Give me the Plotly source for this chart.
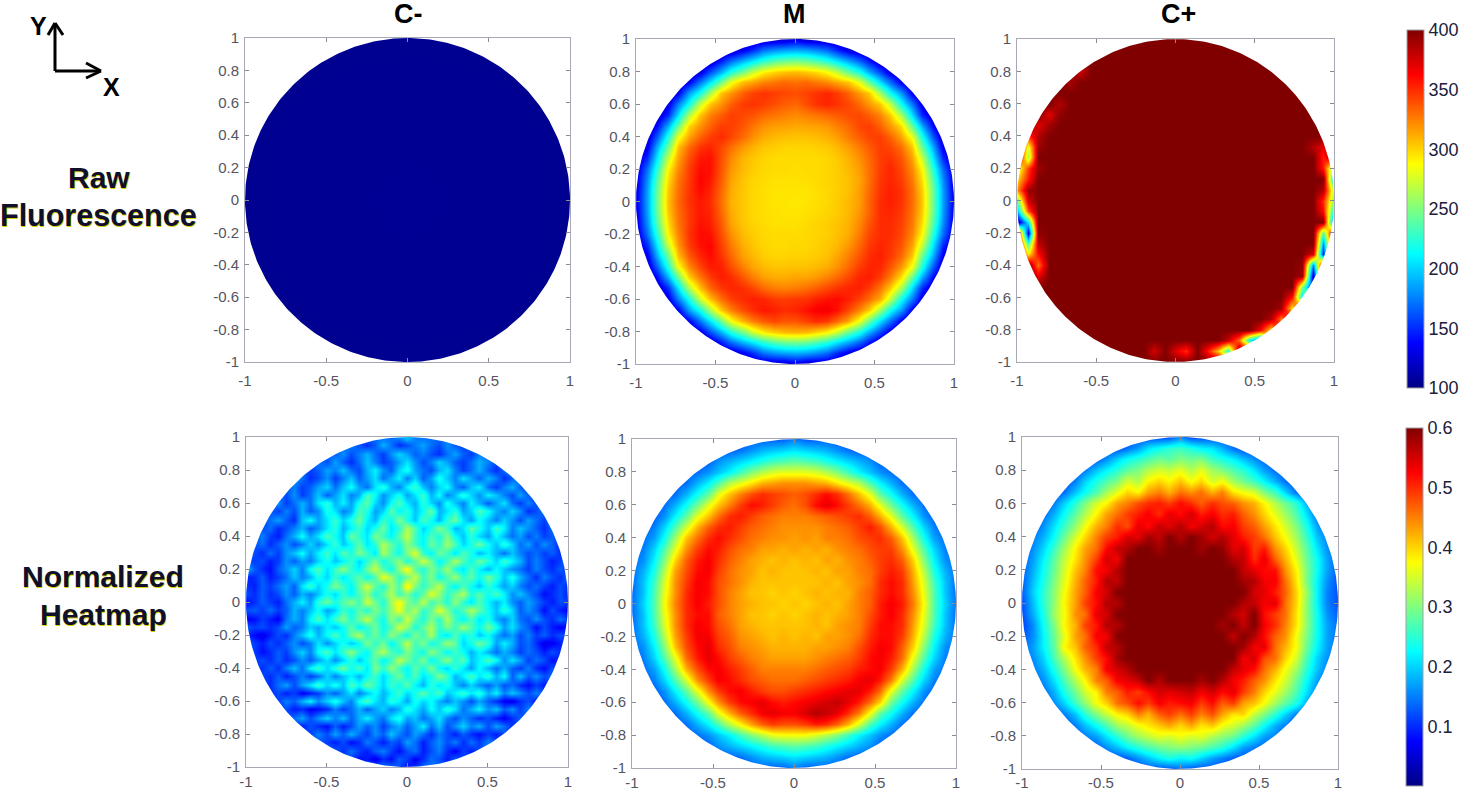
import numpy as np
import plotly.graph_objects as go

W = 1460
H = 792

# grid nodes of the measured maps, rows are written top (+1) to bottom (-1)
GRID_X = [round(-1 + i / 15, 4) for i in range(31)]
GRID_Y = GRID_X[::-1]
FINE_X = [round(-1 + i / 20, 4) for i in range(41)]
FINE_Y = FINE_X[::-1]

TICKS_X = [-1, -0.5, 0, 0.5, 1]
TICKS_X_TEXT = ["-1", "-0.5", "0", "0.5", "1"]
TICKS_Y = [-1, -0.8, -0.6, -0.4, -0.2, 0, 0.2, 0.4, 0.6, 0.8, 1]
TICKS_Y_TEXT = ["-1", "-0.8", "-0.6", "-0.4", "-0.2", "0", "0.2", "0.4", "0.6", "0.8", "1"]
RAW_TICKS = [100, 150, 200, 250, 300, 350, 400]
NORM_TICKS = [0, 0.1, 0.2, 0.3, 0.4, 0.5, 0.6]

RAW_CNEG_X = [-1, 0, 1]
RAW_CNEG_Y = [1, 0, -1]
RAW_CNEG = [
    [104, 104, 104],
    [104, 105, 104],
    [104, 104, 104],
]

RAW_M = [
    [120]*15 + [130] + [120]*15,
    [120]*10 + [132,150,170,180,185,188,185,178,168,148,130] + [120]*10,
    [120]*7 + [122,145,170,190,208,225,238,245,248,244,236,223,206,188,168,143,121] + [120]*7,
    [120]*6 + [130,160,190,222,245,272,290,300,305,308,304,298,288,270,243,220,188,158,128] + [120]*6,
    [120]*5 + [135,172,205,245,283,306,315,324,328,332,330,332,327,322,313,304,281,243,203,170,133] + [120]*5,
    [120]*4 + [135,185,218,262,305,320,334,344,348,345,342,340,343,348,352,346,334,318,303,260,216,183,133] + [120]*4,
    [120,120,120,130,175,218,272,305,320,335,345,348,345,340,335,332,340,348,352,348,342,332,318,303,270,216,173,128,120,120,120],
    [120,120,120,150,205,265,305,325,335,345,342,338,332,328,325,322,325,328,332,336,340,342,335,323,303,263,203,148,120,120,120],
    [120,120,140,190,245,300,320,334,345,344,338,328,320,316,315,313,314,315,318,325,332,342,345,334,318,298,243,188,138,120,120],
    [120,122,165,222,283,315,334,345,350,342,332,320,312,308,306,305,305,307,310,316,326,335,343,345,334,315,283,220,163,120,120],
    [120,132,190,245,306,332,348,352,342,330,318,310,304,302,300,300,300,301,303,308,316,326,336,345,342,330,304,243,188,130,120],
    [122,150,208,272,315,340,356,358,340,322,310,304,300,298,298,298,298,298,300,303,310,320,332,345,348,338,315,270,206,148,122],
    [125,170,225,290,322,345,360,358,338,318,308,302,299,298,298,297,298,298,300,302,308,316,330,345,352,342,322,288,223,168,125],
    [128,180,238,298,328,346,362,356,335,314,305,300,298,296,296,296,297,298,300,302,306,314,330,347,352,345,327,296,236,178,128],
    [130,185,245,304,330,348,360,352,332,312,304,299,297,295,295,295,295,297,299,302,306,316,332,348,354,348,330,302,243,183,130],
    [132,186,246,306,332,348,356,350,330,310,304,299,297,295,295,294,295,297,299,303,308,316,334,350,354,348,331,304,244,184,132],
    [130,185,245,304,330,346,356,352,332,312,304,299,297,296,295,295,296,298,300,303,308,318,334,350,352,346,329,302,243,183,130],
    [128,180,238,298,328,346,358,354,336,314,305,300,298,296,296,296,298,300,302,305,310,322,338,350,350,344,327,296,236,178,128],
    [125,170,225,290,324,348,360,358,340,320,308,302,299,298,298,298,299,300,302,306,312,326,342,350,350,342,323,288,223,168,125],
    [122,150,208,272,318,345,358,362,344,326,312,304,300,298,298,299,299,301,304,308,318,332,346,352,348,338,315,270,206,148,122],
    [120,132,190,245,306,336,352,360,348,332,316,308,302,300,300,301,301,303,306,314,325,338,350,354,346,332,304,243,188,130,120],
    [120,122,165,222,284,322,342,355,354,340,326,314,308,305,305,306,306,308,312,320,332,345,352,352,338,318,283,220,163,120,120],
    [120,120,140,190,246,302,328,345,355,350,338,325,316,312,312,314,314,318,324,332,342,352,355,345,326,298,243,188,138,120,120],
    [120,120,120,150,205,265,306,332,346,352,350,342,332,326,324,326,330,335,342,348,352,354,345,328,303,263,203,148,120,120,120],
    [120,120,120,130,175,218,272,306,330,344,350,354,352,346,345,347,348,354,358,360,354,344,330,312,270,216,173,128,120,120,120],
    [120]*4 + [135,185,218,262,304,325,340,350,356,354,350,352,358,364,366,358,342,324,302,260,216,183,133] + [120]*4,
    [120]*5 + [135,172,205,245,285,308,326,336,342,338,338,344,350,346,332,314,284,243,203,170,133] + [120]*5,
    [120]*6 + [130,160,190,222,245,274,292,302,308,310,308,300,290,272,243,220,188,158,128] + [120]*6,
    [120]*7 + [122,145,170,190,208,225,238,245,248,244,236,223,206,188,168,143,121] + [120]*7,
    [120]*10 + [132,150,170,180,185,188,185,178,168,148,130] + [120]*10,
    [120]*15 + [130] + [120]*15,
]

RAW_CPOS = [
    [400]*31,
    [400]*31,
    [400]*31,
    [400]*6 + [375] + [400]*24,
    [400]*5 + [388] + [400]*25,
    [400]*31,
    [400]*4 + [385] + [400]*26,
    [400]*3 + [370,395] + [400]*26,
    [400]*2 + [370,390] + [400]*27,
    [400,350,385] + [400]*28,
    [400,280,392] + [400]*25 + [385,370,400],
    [400,260] + [400]*27 + [355,400],
    [270,345,392] + [400]*26 + [355,240],
    [300,355] + [400]*28 + [190],
    [320,392] + [400]*27 + [385,260],
    [240,375] + [400]*27 + [350,250],
    [190,340] + [400]*27 + [360,210],
    [110,210] + [400]*28 + [150],
    [400,130,395] + [400]*26 + [235,400],
    [400,235,380] + [400]*26 + [175,400],
    [400,295,360] + [400]*25 + [375,145,400],
    [400,400,330] + [400]*24 + [395,175,400,400],
    [400,400,370] + [400]*24 + [390,120,400,400],
    [400]*27 + [250,135,400,400],
    [400]*26 + [360,205,400,400,400],
    [400]*25 + [390,295,400,400,400,400],
    [400]*24 + [385,325,400,400,400,400,400],
    [400]*23 + [365,295,400,400,400,400,400,400],
    [400]*20 + [380,330,215,155] + [400]*7,
    [400]*13 + [375,400,370,350,400,360,305,225] + [400]*10,
    [400]*31,
]

# normalized maps are kept in hundredths, this one is written only inside the disc
NORM_CNEG = [
    [16,20,15],
    [15,12,10,13,18,14,10,12,15,17,14,12,16,13,11],
    [13,16,12,15,18,14,11,16,20,17,13,15,12,10,14,17,13,11,15],
    [15,12,17,13,10,14,19,15,11,13,17,21,16,12,15,20,17,13,11,14,18,15,12],
    [14,11,13,17,15,19,14,12,18,22,16,13,20,24,17,14,12,18,21,15,11,14,18,13,10,14,16],
    [17,14,10,12,16,11,15,19,13,17,21,14,18,22,15,20,13,17,24,19,15,21,17,13,18,15,10,13,16],
    [12,15,11,13,17,20,14,19,23,17,14,21,25,18,15,22,26,19,15,20,23,16,13,19,22,14,11,15,18,13,11],
    [14,12,16,11,14,19,13,17,21,15,18,27,23,16,20,24,17,21,26,18,23,15,19,25,20,16,22,19,15,12,17,13,10],
    [13,16,11,14,18,14,21,25,18,22,17,24,28,20,16,23,27,21,18,25,20,16,24,19,15,22,18,13,17,21,14,11,15,12,14],
    [13,11,15,12,18,13,16,24,21,15,18,27,24,17,20,28,22,25,19,23,29,18,21,25,17,20,27,23,18,15,20,16,10,12,15],
    [11,14,17,13,10,19,23,17,21,26,20,24,29,22,18,26,23,30,24,19,27,23,18,25,29,21,17,23,19,15,20,16,12,17,14,11,15],
    [12,14,10,12,15,18,13,16,21,25,18,22,26,20,24,29,21,25,33,27,20,24,30,26,18,21,28,24,19,26,22,15,19,16,13,10,14],
    [12,15,11,9,14,18,23,17,21,27,23,19,29,25,21,30,26,22,28,34,26,22,27,24,30,23,19,25,20,17,23,18,14,17,12,15,11,13,10],
    [12,14,10,13,16,12,15,20,16,21,26,19,23,28,21,25,33,28,24,31,26,22,29,25,32,27,20,24,29,23,19,25,20,14,17,12,16,13,10],
    [14,12,10,14,11,16,19,23,17,22,26,21,28,24,30,26,21,33,27,23,30,36,25,22,29,26,21,27,24,18,22,18,14,19,15,12,14,11,13,10,13],
    [12,11,12,9,11,16,13,17,15,20,24,19,22,26,20,25,30,23,27,31,24,28,35,29,22,26,33,27,23,29,25,20,26,22,18,12,15,12,9,11,17],
    [19,13,10,8,13,16,20,15,23,27,21,26,31,25,22,29,34,27,23,31,38,28,24,30,26,32,24,21,27,22,18,23,19,16,14,11,15,12,10,13,10],
    [9,10,13,9,11,14,19,15,18,24,20,26,21,25,28,23,27,37,32,25,29,34,26,30,23,27,32,25,28,23,29,25,19,24,18,14,10,15,12,10,14],
    [11,9,13,11,14,17,13,21,26,20,24,30,26,22,29,35,28,24,32,27,39,30,25,29,34,26,22,27,23,19,25,21,17,20,15,12,14,11,9,12,10],
    [12,10,13,10,12,16,13,18,15,19,24,20,26,22,27,31,24,28,33,26,30,24,28,36,31,25,29,33,24,28,23,27,22,16,19,15,12,8,10,12,9],
    [8,10,13,11,9,14,18,22,17,25,29,24,27,31,26,35,29,24,32,38,30,27,34,26,29,24,31,25,21,27,22,18,22,16,13,17,14,11,9,12,11],
    [12,13,11,14,11,13,18,15,19,23,17,20,26,23,28,24,30,26,31,37,29,33,25,28,36,30,24,27,33,28,23,19,25,20,13,16,13,8,12,9,7],
    [7,8,11,9,7,14,18,15,22,27,21,26,30,24,29,34,27,23,31,26,35,28,24,30,25,33,26,22,27,21,24,18,15,20,14,12,16,12,10,14,11],
    [13,11,12,10,12,17,13,15,20,17,22,19,23,28,22,25,29,23,27,35,31,24,28,33,25,30,26,32,27,23,29,24,17,21,16,13,8,12,9,7,8],
    [10,8,6,9,12,10,15,19,24,18,23,27,22,29,33,25,29,24,31,27,23,30,26,33,24,21,27,22,25,19,23,18,14,17,12,15,11,13,10,12,12],
    [13,11,9,12,10,13,16,12,15,21,16,20,24,19,23,30,25,29,22,27,34,26,30,23,26,32,28,20,24,29,25,17,22,18,12,14,10,6,7,9,12],
    [14,11,8,10,13,11,16,20,15,23,27,21,26,31,25,22,29,33,27,24,30,26,23,31,27,22,26,23,18,22,18,14,18,15,11,14,12,9,12,10,14],
    [11,12,10,13,10,12,16,13,17,21,16,20,25,19,24,28,22,26,34,29,25,30,22,26,31,24,28,19,22,27,23,16,21,17,11,14,12,8,10],
    [12,10,13,10,15,19,14,22,26,20,25,29,23,27,21,30,25,31,26,22,28,24,30,23,20,26,21,17,23,18,14,18,13,11,15,10,8,12,9],
    [12,10,13,9,12,15,11,14,20,15,19,22,18,23,26,20,25,29,23,27,21,24,30,26,18,22,27,21,25,18,23,13,19,13,16,12,14],
    [13,10,14,17,12,17,21,26,20,24,19,27,23,29,25,20,26,23,28,22,18,25,21,24,19,15,20,16,13,17,12,14,10,8,11,9,12],
    [10,12,9,11,7,9,11,16,13,17,21,15,19,23,18,22,26,20,24,28,23,27,19,22,26,21,25,18,22,15,19,16,12,15,12],
    [14,11,15,13,18,22,16,20,24,19,15,23,27,21,18,25,22,17,24,20,23,18,15,19,16,12,17,13,10,7,6,10,12,9,12],
    [10,12,9,10,7,8,10,15,11,14,18,13,17,20,15,18,25,21,17,23,19,25,21,14,18,22,16,19,13,16,11,15,12],
    [11,14,17,12,16,20,15,19,13,18,22,17,14,21,24,17,19,14,17,21,15,12,16,13,10,12,9,7,10,13,11],
    [12,9,12,10,8,13,9,12,17,13,16,11,15,18,13,17,22,14,19,12,16,20,15,18,12,17,14,10,13],
    [14,11,15,12,17,13,18,14,11,16,13,19,15,12,17,14,10,15,12,9,13,10,8,11,9,12,10],
    [13,11,9,12,8,10,15,12,9,13,11,17,14,9,13,16,12,15,10,14,11,15,12],
    [13,10,14,11,9,13,15,11,8,12,14,9,12,15,10,7,11,9,12],
    [11,8,9,6,10,8,13,11,7,10,14,12,9,13,11],
    [12,8,10],
]

NORM_M = [
    [13]*15 + [15] + [13]*15,
    [13]*10 + [14,16,18,19,20,21,20,19,18,16,14] + [13]*10,
    [13]*7 + [13,16,18,20,22,24,26,27,28,27,26,24,22,20,18,16,13] + [13]*7,
    [13]*6 + [14,16,19,22,26,30,33,35,36,36,36,35,33,30,26,22,19,16,14] + [13]*6,
    [13]*5 + [14,18,22,27,33,36,39,42,43,44,44,44,43,42,39,36,33,27,22,18,14] + [13]*5,
    [13]*4 + [14,18,23,28,36,41,45,48,50,49,48,47,48,50,52,50,46,41,36,28,23,18,14] + [13]*4,
    [13,13,13,14,18,23,29,36,41,45,49,52,51,49,47,46,48,52,54,52,49,46,42,36,29,23,18,14,13,13,13],
    [13,13,13,16,22,28,36,41,46,50,51,49,47,46,45,45,45,46,47,48,49,50,47,42,36,28,22,16,13,13,13],
    [13,13,15,20,27,35,42,47,50,51,49,47,46,45,44,44,44,44,45,46,47,49,51,48,42,35,27,20,15,13,13],
    [13,14,17,23,32,41,46,50,52,50,48,46,45,44,44,43,44,43,45,45,46,48,49,50,47,41,32,23,17,14,13],
    [13,15,20,27,36,44,49,52,51,48,46,45,43,43,42,43,42,43,42,44,45,46,48,49,49,44,36,27,20,15,13],
    [14,16,22,30,40,47,51,53,50,47,45,43,42,41,42,41,42,41,43,42,44,45,47,49,50,47,40,30,22,16,14],
    [14,18,24,33,43,48,52,53,49,46,44,43,41,42,41,41,41,42,41,43,43,45,46,49,51,49,42,33,24,18,14],
    [14,19,26,35,44,49,53,52,48,46,44,42,41,41,41,41,41,41,42,41,43,44,46,50,52,50,43,35,26,19,14],
    [14,19,27,36,44,50,53,52,48,45,43,41,41,40,41,40,41,42,41,42,42,45,47,50,52,50,44,36,27,19,14],
    [14,20,27,37,45,50,53,51,48,45,43,42,41,41,40,41,40,41,42,41,43,45,47,51,53,51,45,37,27,20,14],
    [14,19,27,36,44,50,52,52,47,45,43,41,41,40,41,40,41,42,41,42,43,45,48,51,53,50,44,36,27,19,14],
    [14,19,26,35,44,50,53,52,48,46,43,42,41,41,41,41,41,42,41,43,44,45,49,52,52,50,43,35,26,19,14],
    [14,18,24,33,43,49,53,53,49,47,44,43,42,41,42,41,42,41,43,43,44,46,50,52,52,49,42,33,24,18,14],
    [14,16,22,30,41,48,52,54,50,48,45,44,43,42,42,42,42,43,43,44,45,48,51,53,52,47,40,30,22,16,14],
    [13,15,20,27,36,46,51,54,52,49,47,45,44,43,43,43,43,44,45,46,47,49,52,53,51,46,36,27,20,15,13],
    [13,14,17,23,32,42,48,52,53,51,49,47,45,45,45,45,45,46,47,48,49,51,52,53,49,42,32,23,17,14,13],
    [13,13,15,20,27,35,44,49,53,52,50,48,47,46,46,46,47,48,49,50,51,53,54,51,45,35,27,20,15,13,13],
    [13,13,13,16,22,28,36,44,49,52,53,51,49,48,48,49,50,51,52,53,54,54,51,46,36,28,22,16,13,13,13],
    [13,13,13,14,18,23,29,37,44,49,52,53,54,52,51,52,53,54,55,56,54,51,46,40,29,23,18,14,13,13,13],
    [13]*4 + [14,18,23,28,36,42,47,50,53,54,53,53,55,57,56,54,50,45,37,28,23,18,14] + [13]*4,
    [13]*5 + [14,18,22,27,33,38,43,47,49,48,48,49,51,50,47,42,35,27,22,18,14] + [13]*5,
    [13]*6 + [14,16,19,22,26,30,33,36,37,37,37,35,33,30,26,22,19,16,14] + [13]*6,
    [13]*7 + [13,16,18,20,22,24,26,27,28,27,26,24,22,20,18,16,13] + [13]*7,
    [13]*10 + [14,16,18,19,20,21,20,19,18,16,14] + [13]*10,
    [13]*15 + [15] + [13]*15,
]

NORM_CPOS = [
    [12]*15 + [16] + [12]*15,
    [12]*10 + [14,17,21,23,25,26,24,22,21,18,14] + [12]*10,
    [12]*7 + [13,16,20,23,25,27,29,28,30,29,30,26,24,22,19,16,13] + [12]*7,
    [12]*6 + [15,19,22,25,28,30,33,35,34,36,33,36,32,30,27,25,21,17,14] + [12]*6,
    [12]*5 + [15,20,24,27,30,35,33,38,40,38,41,37,40,35,37,32,29,26,22,18,14] + [12]*5,
    [12]*4 + [14,19,23,27,32,36,40,38,43,45,42,46,44,46,42,45,39,37,35,30,26,20,14] + [12]*4,
    [12,12,12,15,20,25,30,35,38,43,45,48,50,51,49,52,50,47,50,48,47,44,42,38,33,29,25,18,14,12,12],
    [12,12,14,18,23,28,33,38,43,46,49,51,53,50,54,52,55,51,53,50,51,47,44,40,36,32,27,21,14,12,12],
    [12,13,16,21,26,31,37,42,45,50,48,54,52,56,54,57,53,55,57,52,53,49,47,43,39,35,30,24,17,13,12],
    [12,15,18,23,29,35,40,45,49,51,55,54,58,56,60,57,60,58,55,57,54,51,49,46,41,37,32,26,19,15,12],
    [13,16,20,26,32,38,43,46,52,56,57,60,60,58,60,60,60,58,60,59,54,55,49,51,44,40,34,28,21,16,13],
    [13,17,22,28,34,39,44,49,55,53,60,60,60,60,60,60,60,60,60,60,57,56,50,54,47,42,36,29,23,17,13],
    [13,18,23,29,35,41,45,52,53,57,60,60,60,60,60,60,60,60,60,60,60,56,54,52,52,44,38,30,23,17,13],
    [13,19,24,30,36,42,47,51,57,56,60,60,60,60,60,60,60,60,60,60,60,58,57,53,53,46,39,30,22,16,12],
    [13,20,25,31,37,43,47,53,55,60,60,60,60,60,60,60,60,60,60,60,60,60,55,54,51,47,40,32,22,15,12],
    [12,19,25,31,38,43,49,52,57,57,60,60,60,60,60,60,60,60,60,60,60,57,56,53,54,46,40,31,22,15,12],
    [12,18,24,32,37,44,46,54,55,60,60,60,60,60,60,60,60,60,60,60,57,55,60,52,49,46,39,31,23,16,13],
    [11,16,23,30,38,42,49,51,57,57,60,60,60,60,60,60,60,60,60,58,60,56,60,53,50,45,39,31,23,17,14],
    [12,16,22,29,36,43,46,53,53,60,60,60,60,60,60,60,60,60,60,60,56,60,57,52,47,44,37,30,23,17,14],
    [14,17,22,28,38,41,47,50,56,57,60,60,60,60,60,60,60,60,60,60,60,58,53,54,46,42,37,29,22,17,14],
    [13,16,20,27,33,39,44,49,52,58,60,60,60,60,60,60,60,60,60,60,60,53,55,48,46,40,35,27,20,16,13],
    [12,15,18,24,30,37,42,45,53,55,57,60,60,60,60,60,60,60,60,60,56,54,52,46,42,37,32,25,19,15,12],
    [12,13,16,21,27,33,38,45,47,53,54,56,60,57,60,60,60,58,60,57,53,51,47,44,39,35,29,23,17,13,12],
    [12,12,14,18,24,29,35,38,45,47,51,49,52,55,54,55,56,53,55,52,54,49,45,40,36,32,27,21,15,12,12],
    [12,12,13,16,20,26,31,37,40,46,48,52,49,53,51,52,53,49,52,47,49,43,41,37,32,28,24,18,14,12,12],
    [12]*4 + [15,19,25,30,34,38,40,45,42,47,49,46,49,45,48,43,39,40,34,30,25,20,15] + [12]*4,
    [12]*5 + [15,19,23,27,32,34,37,39,41,43,40,43,39,41,37,35,32,28,23,18,15] + [12]*5,
    [12]*6 + [15,17,21,25,29,32,34,36,35,37,35,36,33,31,29,25,21,17,15] + [12]*6,
    [12]*7 + [13,16,19,22,25,27,29,30,31,30,29,27,25,21,17,15,13] + [12]*7,
    [12]*10 + [13,16,19,22,24,22,23,20,17,15,13] + [12]*10,
    [12]*15 + [14] + [12]*15,
]

JET = [
    [0, "rgb(0,0,132)"],
    [0.125, "rgb(0,0,255)"],
    [0.375, "rgb(0,255,255)"],
    [0.625, "rgb(255,255,0)"],
    [0.875, "rgb(255,0,0)"],
    [1, "rgb(128,0,0)"],
]

# left, right, top, bottom of each box in page pixels
BOXES = [
    (245, 570, 38, 362),
    (636, 954, 39, 364),
    (1017, 1334, 39, 362),
    (246, 568, 437, 767),
    (632, 956, 439, 768),
    (1022, 1338, 437, 769),
]

GREY = "#55555f"
DARK = "#10102c"
HALO = "0.7px 0.7px 0 #d8d000"


def px(x):
    return x / W


def py(y):
    return 1 - y / H


def centred(rows, size, outside):
    # rows of the fine map only list the cells inside the disc
    out = []
    for row in rows:
        left = (size - len(row)) // 2
        out.append([outside] * left + row + [outside] * (size - len(row) - left))
    return np.array(out)


def cbar(ticks, top, bottom, left):
    return dict(
        x=px(left), xanchor="left", xpad=0,
        y=py(bottom), yanchor="bottom", ypad=0,
        len=bottom - top, lenmode="pixels",
        thickness=17, thicknessmode="pixels",
        outlinecolor="#a0a0a8", outlinewidth=1,
        tickvals=ticks, ticks="", ticklabelposition="outside",
        tickfont=dict(family="Liberation Sans", size=18, color="#20203a"),
    )


def mask_xy():
    # white sheet with a round hole so each map ends on the unit circle,
    # the hole runs clockwise against the outer edge so it stays unfilled
    a = np.linspace(0, -2 * np.pi, 361)
    x = list(np.cos(a)) + [1.3, 1.3, -1.3, -1.3, 1.3, 1.3, 1]
    y = list(np.sin(a)) + [0, 1.3, 1.3, -1.3, -1.3, 0, 0]
    return x, y


fig = go.Figure()

maps = [
    (RAW_CNEG_X, RAW_CNEG_Y, np.array(RAW_CNEG), 100, 400, None),
    (GRID_X, GRID_Y, np.array(RAW_M), 100, 400, None),
    (GRID_X, GRID_Y, np.array(RAW_CPOS), 100, 400, cbar(RAW_TICKS, 30, 388, 1407)),
    (FINE_X, FINE_Y, centred(NORM_CNEG, 41, 14) / 100, 0, 0.6, None),
    (GRID_X, GRID_Y, np.array(NORM_M) / 100, 0, 0.6, None),
    (GRID_X, GRID_Y, np.array(NORM_CPOS) / 100, 0, 0.6, cbar(NORM_TICKS, 428, 786, 1406)),
]

mx, my = mask_xy()
axes = {}
for n, (box, m) in enumerate(zip(BOXES, maps), start=1):
    xs = "x" if n == 1 else f"x{n}"
    ys = "y" if n == 1 else f"y{n}"
    tr = dict(x=m[0], y=m[1], z=m[2], zmin=m[3], zmax=m[4], colorscale=JET,
              zsmooth="best", xaxis=xs, yaxis=ys, hoverinfo="skip")
    if m[5] is None:
        tr["showscale"] = False
    else:
        tr["colorbar"] = m[5]
    fig.add_trace(go.Heatmap(**tr))
    fig.add_trace(go.Scatter(x=mx, y=my, mode="lines", fill="toself", fillcolor="white",
                             line=dict(width=0, color="white"), xaxis=xs, yaxis=ys,
                             hoverinfo="skip", showlegend=False))
    common = dict(range=[-1, 1], showgrid=False, zeroline=False, ticks="inside", ticklen=4,
                  tickcolor="#8a8a92", linecolor="#a8a8b4", linewidth=1, mirror="ticks",
                  layer="above traces",
                  tickfont=dict(family="Liberation Sans", size=15, color=GREY))
    standoff = 5 if n <= 3 else (0 if n == 6 else 1)
    axes["xaxis" if n == 1 else f"xaxis{n}"] = dict(
        domain=[px(box[0]), px(box[1])], anchor=ys, tickvals=TICKS_X, ticktext=TICKS_X_TEXT,
        ticklabelstandoff=standoff, **common)
    axes["yaxis" if n == 1 else f"yaxis{n}"] = dict(
        domain=[py(box[3]), py(box[2])], anchor=xs, tickvals=TICKS_Y, ticktext=TICKS_Y_TEXT,
        ticklabelstandoff=2, **common)

labels = [
    ("C-", 408, 14, 27, "black", None),
    ("M", 795, 14, 27, "black", None),
    ("C+", 1178, 14, 27, "black", None),
    ("Y", 38, 26, 25, "black", None),
    ("X", 111, 87, 25, "black", None),
    ("Raw", 99, 178, 30, DARK, HALO),
    ("Fluorescence", 98, 215, 30.5, DARK, HALO),
    ("Normalized", 103, 576, 30, DARK, HALO),
    ("Heatmap", 103, 614, 30, DARK, HALO),
]
annotations = []
for text, x, y, size, color, halo in labels:
    font = dict(family="Liberation Sans", size=size, color=color, weight="bold")
    if halo:
        font["shadow"] = halo
    annotations.append(dict(text=text, x=px(x), y=py(y), xref="paper", yref="paper",
                            xanchor="center", yanchor="middle", showarrow=False, font=font))

# the little x/y arrows
arrow_lines = [
    ((55, 71), (55, 23)),
    ((48, 35), (55, 23)),
    ((63, 35), (55, 23)),
    ((55, 71), (101, 71)),
    ((86, 63), (101, 71)),
    ((86, 78), (101, 71)),
]
shapes = [dict(type="line", xref="paper", yref="paper", x0=px(a[0]), y0=py(a[1]),
               x1=px(b[0]), y1=py(b[1]), line=dict(color="black", width=3))
          for a, b in arrow_lines]

fig.update_layout(width=W, height=H, margin=dict(l=0, r=0, t=0, b=0, autoexpand=False),
                  paper_bgcolor="white", plot_bgcolor="white", showlegend=False,
                  annotations=annotations, shapes=shapes, **axes)

fig.write_html("out.html", config={"displayModeBar": False},
               post_script="document.body.style.margin='0';")
